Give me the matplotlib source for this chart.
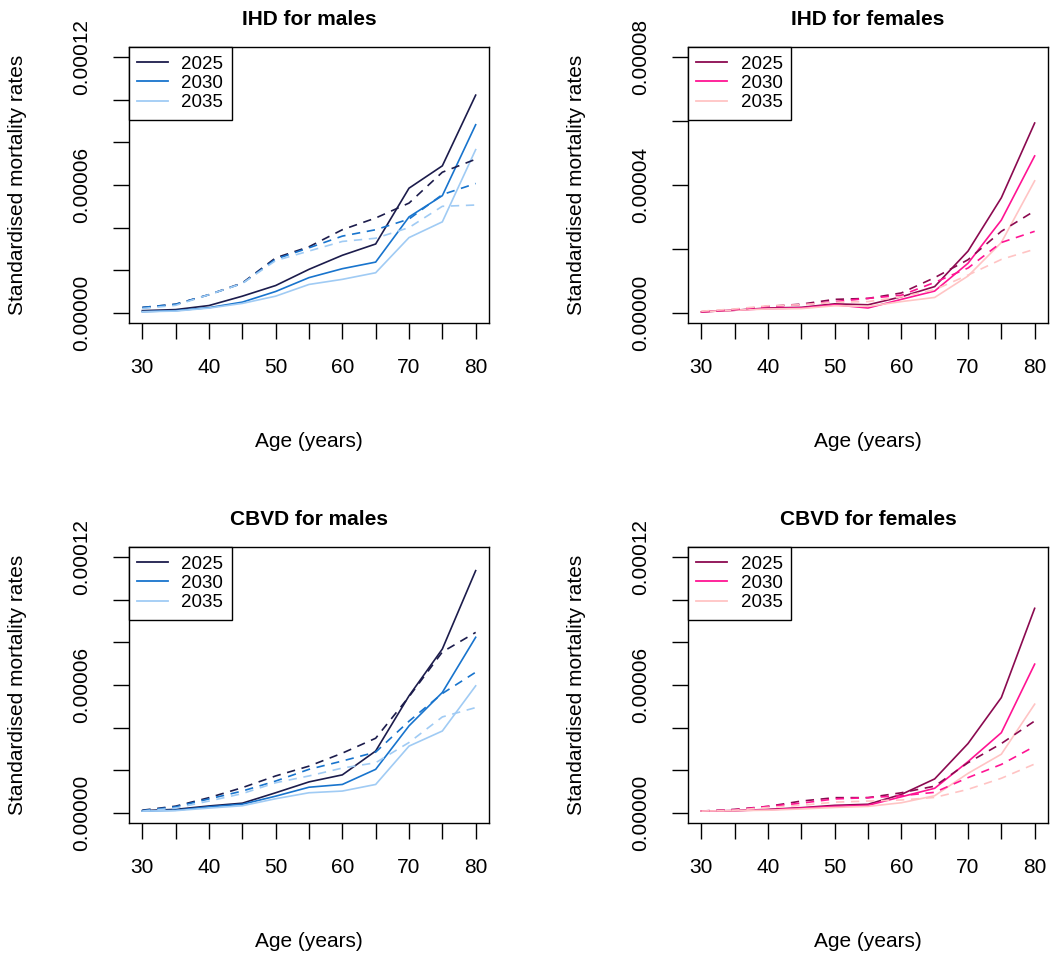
import matplotlib
matplotlib.use("Agg")
import matplotlib.pyplot as plt
from matplotlib.lines import Line2D
import numpy as np

plt.rcParams['font.family'] = ['Liberation Sans', 'DejaVu Sans']

# Age groups (years)
ages = [30, 35, 40, 45, 50, 55, 60, 65, 70, 75, 80]
years = ["2025", "2030", "2035"]
SCALE = 1e-5  # rates below are in units of 1e-5

# IHD, males: projected (solid) and comparison (dashed)
ihd_m_2025 = [0.10, 0.15, 0.34, 0.78, 1.28, 2.04, 2.70, 3.23, 5.85, 6.90, 10.22]
ihd_m_2030 = [0.05, 0.10, 0.24, 0.50, 1.00, 1.65, 2.07, 2.38, 4.50, 5.50, 8.83]
ihd_m_2035 = [0.05, 0.08, 0.22, 0.44, 0.78, 1.33, 1.57, 1.88, 3.53, 4.27, 7.66]
ihd_m_2025_d = [0.25, 0.40, 0.85, 1.40, 2.58, 3.10, 3.90, 4.45, 5.15, 6.60, 7.21]
ihd_m_2030_d = [0.25, 0.40, 0.85, 1.38, 2.52, 3.05, 3.60, 3.90, 4.40, 5.55, 6.07]
ihd_m_2035_d = [0.20, 0.35, 0.85, 1.38, 2.45, 2.90, 3.35, 3.50, 4.00, 5.00, 5.06]

# IHD, females
ihd_f_2025 = [0.03, 0.08, 0.15, 0.17, 0.28, 0.25, 0.50, 0.82, 1.93, 3.60, 5.94]
ihd_f_2030 = [0.03, 0.08, 0.13, 0.15, 0.25, 0.15, 0.42, 0.68, 1.55, 2.90, 4.91]
ihd_f_2035 = [0.03, 0.08, 0.12, 0.13, 0.22, 0.20, 0.35, 0.48, 1.15, 2.20, 4.13]
ihd_f_2025_d = [0.03, 0.10, 0.20, 0.27, 0.42, 0.45, 0.62, 1.10, 1.66, 2.55, 3.19]
ihd_f_2030_d = [0.03, 0.10, 0.20, 0.25, 0.35, 0.45, 0.55, 0.95, 1.40, 2.20, 2.55]
ihd_f_2035_d = [0.05, 0.12, 0.22, 0.25, 0.33, 0.35, 0.50, 0.72, 1.18, 1.67, 1.99]

# CBVD, males
cbvd_m_2025 = [0.10, 0.16, 0.32, 0.45, 0.94, 1.45, 1.78, 2.90, 5.49, 7.69, 11.37]
cbvd_m_2030 = [0.08, 0.12, 0.28, 0.40, 0.78, 1.20, 1.33, 2.04, 4.08, 5.65, 8.24]
cbvd_m_2035 = [0.08, 0.10, 0.22, 0.33, 0.66, 0.94, 1.02, 1.33, 3.13, 3.84, 5.96]
cbvd_m_2025_d = [0.12, 0.31, 0.71, 1.18, 1.73, 2.19, 2.80, 3.50, 5.45, 7.55, 8.47]
cbvd_m_2030_d = [0.10, 0.28, 0.65, 1.02, 1.49, 2.04, 2.43, 2.85, 4.30, 5.60, 6.60]
cbvd_m_2035_d = [0.08, 0.22, 0.55, 0.90, 1.41, 1.73, 2.10, 2.35, 3.30, 4.50, 4.94]

# CBVD, females
cbvd_f_2025 = [0.08, 0.10, 0.16, 0.24, 0.35, 0.40, 0.86, 1.59, 3.25, 5.41, 9.60]
cbvd_f_2030 = [0.08, 0.10, 0.14, 0.22, 0.30, 0.35, 0.75, 1.15, 2.40, 3.76, 6.98]
cbvd_f_2035 = [0.08, 0.10, 0.12, 0.18, 0.25, 0.30, 0.47, 0.80, 1.85, 2.75, 5.10]
cbvd_f_2025_d = [0.08, 0.16, 0.30, 0.55, 0.71, 0.71, 0.94, 1.25, 2.35, 3.25, 4.31]
cbvd_f_2030_d = [0.08, 0.14, 0.30, 0.45, 0.65, 0.71, 0.80, 0.96, 1.65, 2.27, 3.12]
cbvd_f_2035_d = [0.08, 0.12, 0.25, 0.35, 0.50, 0.55, 0.60, 0.72, 1.10, 1.62, 2.29]

male_cols = ["#1c1c4c", "#1874cd", "#a0cbf4"]
female_cols = ["#8b0a50", "#ff1493", "#ffc4c4"]

panels = [
    ("IHD for males", male_cols, 12,
     [ihd_m_2025, ihd_m_2030, ihd_m_2035],
     [ihd_m_2025_d, ihd_m_2030_d, ihd_m_2035_d]),
    ("IHD for females", female_cols, 8,
     [ihd_f_2025, ihd_f_2030, ihd_f_2035],
     [ihd_f_2025_d, ihd_f_2030_d, ihd_f_2035_d]),
    ("CBVD for males", male_cols, 12,
     [cbvd_m_2025, cbvd_m_2030, cbvd_m_2035],
     [cbvd_m_2025_d, cbvd_m_2030_d, cbvd_m_2035_d]),
    ("CBVD for females", female_cols, 12,
     [cbvd_f_2025, cbvd_f_2030, cbvd_f_2035],
     [cbvd_f_2025_d, cbvd_f_2030_d, cbvd_f_2035_d]),
]

W, H = 1050, 959
fig = plt.figure(figsize=(W / 100, H / 100), dpi=100)

# axes boxes in pixel coordinates: (left, top, right, bottom)
boxes = [(129, 47, 489, 323), (688, 47, 1048, 323),
         (129, 547, 489, 823), (688, 547, 1048, 823)]

FS = 15
for (title, cols, ymax, solid, dashed), (l, t, r, b) in zip(panels, boxes):
    ax = fig.add_axes([l / W, 1 - b / H, (r - l) / W, (b - t) / H])
    x = np.array(ages)
    for c, s in zip(cols, solid):
        ax.plot(x, np.array(s) * SCALE, color=c, lw=1.2, solid_joinstyle="miter")
    for c, d in zip(cols, dashed):
        ax.plot(x, np.array(d) * SCALE, color=c, lw=1.2, dashes=(5, 4))

    ytop = ymax * SCALE
    ax.set_xlim(28, 82)
    ax.set_ylim(-0.04 * ytop, 1.04 * ytop)

    ax.set_xticks(np.arange(30, 81, 5))
    ax.set_xticklabels([str(a) if a % 10 == 0 else "" for a in range(30, 81, 5)])
    yt = np.arange(0, ymax + 1, 2) * SCALE
    step = ymax // 2
    ax.set_yticks(yt)
    ax.set_yticklabels([f"{v:.5f}" if (i * 2) % step == 0 else ""
                        for i, v in enumerate(yt)],
                       rotation=90, va="center")

    ax.tick_params(axis="both", direction="out", length=11.5, width=1.0,
                   labelsize=FS, colors="black")
    ax.tick_params(axis="x", pad=14)
    ax.tick_params(axis="y", pad=16)
    for sp in ax.spines.values():
        sp.set_linewidth(1.0)
        sp.set_color("black")

    ax.set_title(title, fontsize=FS, fontweight="bold", pad=16)
    ax.set_xlabel("Age (years)", fontsize=FS)
    ax.xaxis.set_label_coords(0.5, -0.395)
    ax.set_ylabel("Standardised mortality rates", fontsize=FS)
    ax.yaxis.set_label_coords(-0.283, 0.5)

    handles = [Line2D([], [], color=c, lw=1.3) for c in cols]
    leg = ax.legend(handles, years, loc="upper left", bbox_to_anchor=(0, 1),
                    borderaxespad=0, fancybox=False, framealpha=1,
                    edgecolor="black", fontsize=13.5, handlelength=1.65,
                    handletextpad=0.7, labelspacing=0.12, borderpad=0.45)
    leg.get_frame().set_linewidth(1.0)

fig.savefig("out.png", dpi=100)
